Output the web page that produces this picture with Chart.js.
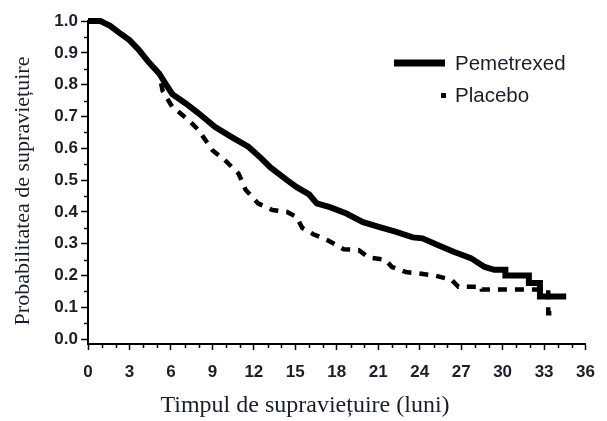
<!DOCTYPE html>
<html>
<head>
<meta charset="utf-8">
<script src="https://cdn.jsdelivr.net/npm/chart.js@4.4.1/dist/chart.umd.min.js"></script>
<style>
  html, body { margin: 0; padding: 0; background: #fff; }
  #wrap { width: 607px; height: 421px; position: relative; }
</style>
</head>
<body>
<div id="wrap"><canvas id="kmChart" width="607" height="421"></canvas></div>
<script>
// survival curves, months vs probability
var pemMonths = [0, 0.9, 1.6, 2.2, 3.0, 3.7, 4.4, 5.15, 5.65, 6.1, 7.1, 8.0, 9.2, 10.4, 11.6, 12.5, 13.2, 14.4, 15.1, 16.0, 16.55, 17.5, 18.7, 19.9, 21.1, 22.3, 23.5, 24.2, 25.3, 26.5, 27.7, 28.7, 29.4, 30.2, 30.2, 31.9, 31.9, 32.7, 32.7, 34.6];
var pemSurv   = [1.0, 1.0, 0.985, 0.965, 0.94, 0.908, 0.87, 0.835, 0.80, 0.77, 0.74, 0.71, 0.667, 0.635, 0.605, 0.57, 0.54, 0.50, 0.478, 0.455, 0.427, 0.415, 0.395, 0.368, 0.352, 0.337, 0.32, 0.317, 0.296, 0.274, 0.255, 0.227, 0.218, 0.218, 0.2, 0.2, 0.177, 0.177, 0.134, 0.134];

var plaMonths = [0, 0.9, 1.6, 2.2, 3.0, 3.7, 4.4, 5.15, 5.4, 6.1, 7.3, 8.0, 9.0, 9.9, 10.9, 11.4, 12.3, 13.35, 14.4, 15.1, 15.5, 16.3, 17.3, 18.5, 19.6, 20.3, 21.5, 22.0, 23.0, 23.9, 25.1, 26.3, 26.8, 28.5, 28.5, 32.0, 33.3, 33.3, 34.0];
var plaSurv   = [1.0, 1.0, 0.985, 0.965, 0.94, 0.908, 0.87, 0.835, 0.78, 0.73, 0.688, 0.657, 0.594, 0.563, 0.52, 0.47, 0.427, 0.406, 0.40, 0.384, 0.35, 0.33, 0.312, 0.283, 0.28, 0.257, 0.25, 0.227, 0.211, 0.207, 0.2, 0.187, 0.165, 0.165, 0.156, 0.156, 0.156, 0.082, 0.082];

var seriesNames = ['Pemetrexed', 'Placebo'];
var xTickValues = [];
for (var m = 0; m <= 36; m++) xTickValues.push(m);
var yTickValues = [];
for (var k = 0; k <= 20; k++) yTickValues.push(k / 20);

var xTitle = 'Timpul de supraviețuire (luni)';
var yTitle = 'Probabilitatea de supraviețuire';

function toPoints(xs, ys) {
    return xs.map(function (x, i) { return { x: x, y: ys[i] }; });
}

var inkColor = '#1c1c2c';

var extrasPlugin = {
    id: 'extras',
    afterDraw: function (chart) {
        var ctx = chart.ctx;
        var xs = chart.scales.x, ys = chart.scales.y;
        var area = chart.chartArea;
        ctx.save();
        // minor ticks
        ctx.strokeStyle = '#000';
        ctx.lineWidth = 1.5;
        xTickValues.forEach(function (v) {
            if (v % 3 === 0) return;
            var px = Math.round(xs.getPixelForValue(v)) + 0.5;
            ctx.beginPath();
            ctx.moveTo(px, area.bottom);
            ctx.lineTo(px, area.bottom + 4);
            ctx.stroke();
        });
        yTickValues.forEach(function (v, i) {
            if (i % 2 === 0) return;
            var py = Math.round(ys.getPixelForValue(v)) + 0.5;
            ctx.beginPath();
            ctx.moveTo(area.left, py);
            ctx.lineTo(area.left - 4, py);
            ctx.stroke();
        });

        // axis titles
        ctx.fillStyle = inkColor;
        ctx.font = '24px "Liberation Serif", "Times New Roman", serif';
        ctx.textAlign = 'center';
        ctx.textBaseline = 'alphabetic';
        ctx.fillText(xTitle, 305, 412);
        ctx.save();
        ctx.translate(29, 191);
        ctx.rotate(-Math.PI / 2);
        ctx.font = '22px "Liberation Serif", "Times New Roman", serif';
        ctx.fillText(yTitle, 0, 0);
        ctx.restore();

        // legend
        var ds = chart.data.datasets;
        ctx.font = '20.5px "Liberation Sans", Arial, sans-serif';
        ctx.textAlign = 'left';
        ctx.textBaseline = 'middle';
        ctx.strokeStyle = ds[0].borderColor;
        ctx.lineWidth = 7;
        ctx.beginPath();
        ctx.moveTo(394, 63);
        ctx.lineTo(445, 63);
        ctx.stroke();
        ctx.fillText(ds[0].label, 455, 64);
        ctx.fillStyle = ds[1].borderColor;
        ctx.fillRect(441, 93, 5, 5);
        ctx.fillStyle = inkColor;
        ctx.fillText(ds[1].label, 455, 96);
        ctx.restore();
    }
};

var ctx = document.getElementById('kmChart').getContext('2d');
var kmChart = new Chart(ctx, {
    type: 'scatter',
    data: {
        datasets: [{
            label: seriesNames[0],
            data: toPoints(pemMonths, pemSurv),
            showLine: true,
            borderColor: '#000',
            borderWidth: 6,
            pointRadius: 0,
            tension: 0,
            clip: false
        }, {
            label: seriesNames[1],
            data: toPoints(plaMonths, plaSurv),
            showLine: true,
            borderColor: '#000',
            borderWidth: 4.5,
            borderDash: [9, 8],
            pointRadius: 0,
            tension: 0,
            clip: false
        }]
    },
    options: {
        responsive: false,
        animation: false,
        layout: { padding: { left: 0, right: 14, top: 21, bottom: 0 } },
        plugins: {
            legend: { display: false },
            tooltip: { enabled: false }
        },
        scales: {
            x: {
                type: 'linear',
                min: 0,
                max: 36,
                afterFit: function (s) { s.height = 77; },
                afterBuildTicks: function (s) {
                    s.ticks = xTickValues.map(function (v) { return { value: v }; });
                },
                grid: {
                    drawOnChartArea: false,
                    drawTicks: true,
                    tickLength: 6,
                    tickWidth: 1.5,
                    tickColor: function (c) {
                        return c.tick && c.tick.value % 3 === 0 ? '#000' : 'transparent';
                    }
                },
                border: { display: true, color: '#000', width: 2 },
                ticks: {
                    autoSkip: false,
                    maxRotation: 0,
                    padding: 12,
                    color: inkColor,
                    font: { family: '"Liberation Sans", Arial, sans-serif', size: 17, weight: 'bold' },
                    callback: function (v) { return v % 3 === 0 ? String(v) : ''; }
                }
            },
            y: {
                type: 'linear',
                min: -0.015,
                max: 1.0,
                afterFit: function (s) { s.width = 88; },
                afterBuildTicks: function (s) {
                    s.ticks = yTickValues.map(function (v) { return { value: v }; });
                },
                grid: {
                    drawOnChartArea: false,
                    drawTicks: true,
                    tickLength: 7,
                    tickWidth: 1.5,
                    tickColor: function (c) {
                        return c.index % 2 === 0 ? '#000' : 'transparent';
                    }
                },
                border: { display: true, color: '#000', width: 2 },
                ticks: {
                    autoSkip: false,
                    padding: 3,
                    color: inkColor,
                    font: { family: '"Liberation Sans", Arial, sans-serif', size: 17, weight: 'bold' },
                    callback: function (v, i) { return i % 2 === 0 ? v.toFixed(1) : ''; }
                }
            }
        }
    },
    plugins: [extrasPlugin]
});
</script>
</body>
</html>
